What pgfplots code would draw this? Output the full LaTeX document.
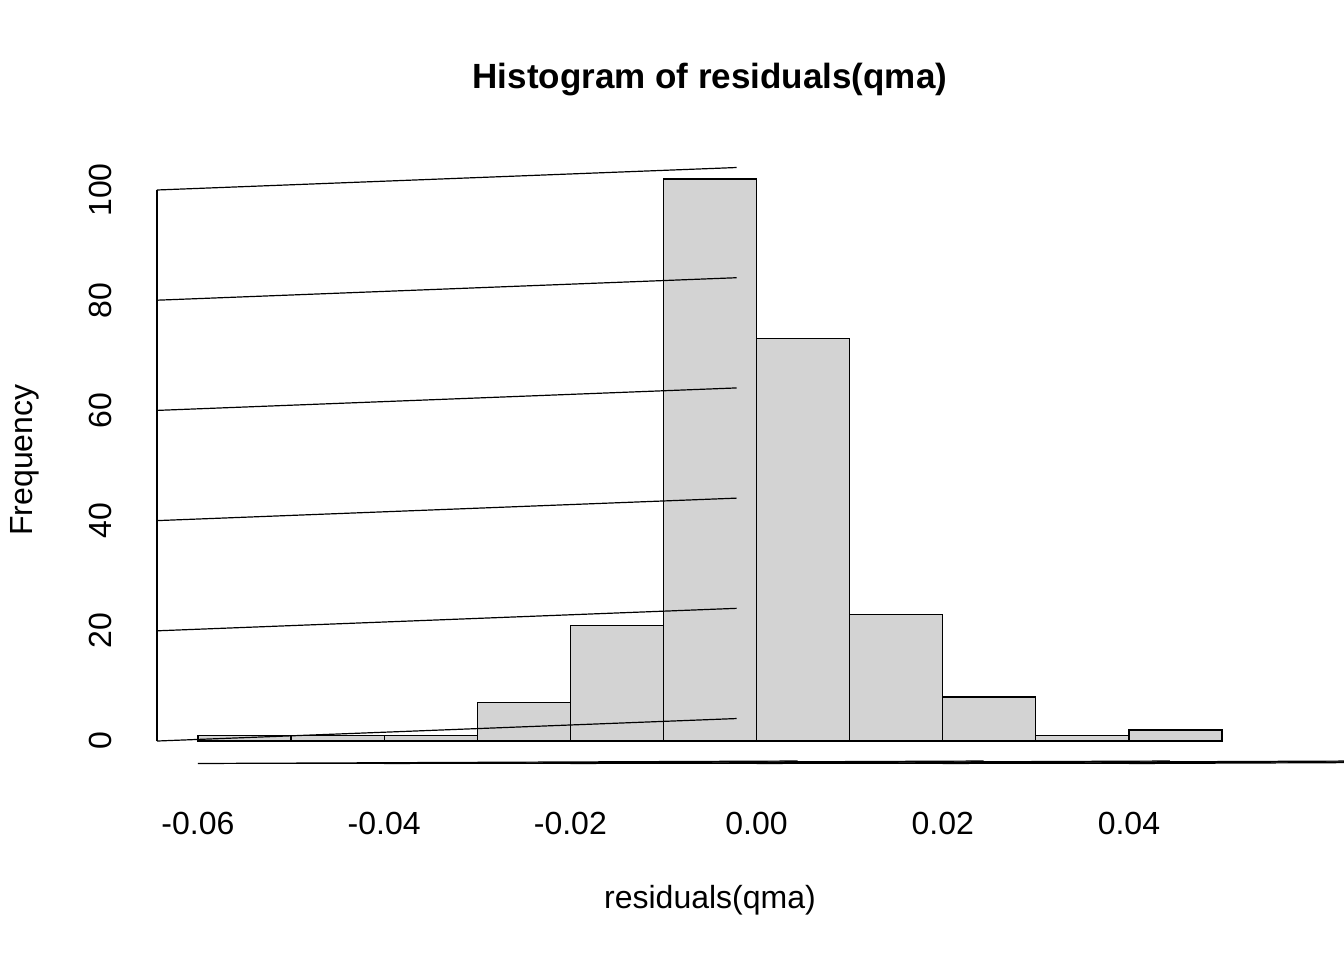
\documentclass[border=0pt]{standalone}
\usepackage{pgfplots}
\pgfplotsset{compat=1.18}
\usepackage{fontspec}
\setmainfont{Liberation Sans}
\definecolor{barfill}{HTML}{D3D3D3}
\begin{document}
\fontsize{16}{19}\selectfont
\begin{tikzpicture}
\path[use as bounding box] (-78.5pt,-98.25pt) rectangle (593.5pt,381.75pt);
\begin{axis}[at={(0,0)}, anchor=south west, scale only axis,
  width=553pt, height=303.5pt,
  xmin=-0.0644, xmax=0.0544, ymin=-4.08, ymax=106.08,
  hide axis, clip=false]
\addplot[ybar interval, fill=barfill, draw=black, line width=0.6pt] coordinates {
(-0.06,1) (-0.05,1) (-0.04,1) (-0.03,7) (-0.02,21) (-0.01,102) (0,73) (0.01,23) (0.02,8) (0.03,1) (0.04,2) (0.05,2)};
\draw[line width=0.6pt] (axis cs:-0.06,-4.08) -- (axis cs:0.04,-4.08);
\pgfplotsinvokeforeach{-0.06,-0.04,-0.02,0,0.02,0.04}{
  \draw[line width=0.6pt] (axis cs:#1,-4.08) -- ++(0,-10pt);
}
\node[yshift=-30pt] at (axis cs:-0.06,-4.08) {-0.06};
\node[yshift=-30pt] at (axis cs:-0.04,-4.08) {-0.04};
\node[yshift=-30pt] at (axis cs:-0.02,-4.08) {-0.02};
\node[yshift=-30pt] at (axis cs:0,-4.08) {0.00};
\node[yshift=-30pt] at (axis cs:0.02,-4.08) {0.02};
\node[yshift=-30pt] at (axis cs:0.04,-4.08) {0.04};
\draw[line width=0.6pt] (axis cs:-0.0644,0) -- (axis cs:-0.0644,100);
\pgfplotsinvokeforeach{0,20,40,60,80,100}{
  \draw[line width=0.6pt] (axis cs:-0.0644,#1) -- ++(-10pt,0);
  \node[xshift=-28.5pt,rotate=90] at (axis cs:-0.0644,#1) {#1};
}
\node[yshift=-68.5pt] at (rel axis cs:0.5,0) {residuals(qma)};
\node[xshift=-66pt,rotate=90] at (rel axis cs:0,0.5) {Frequency};
\node[yshift=38.5pt] at (rel axis cs:0.5,1) {\fontsize{17.5}{20}\selectfont\bfseries Histogram of residuals(qma)};
\end{axis}
\end{tikzpicture}
\end{document}
